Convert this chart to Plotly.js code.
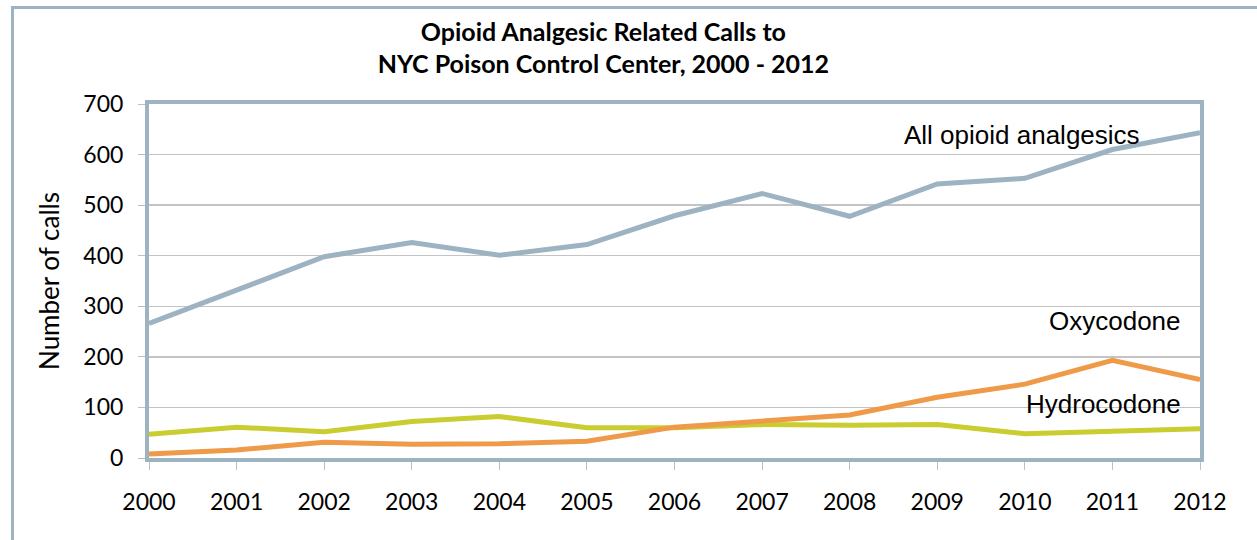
<!DOCTYPE html>
<html>
<head>
<meta charset="utf-8">
<script src="https://cdn.plot.ly/plotly-3.0.1.min.js"></script>
<style>
  html, body { margin: 0; padding: 0; background: #fff; }
  #wrap { position: relative; width: 1257px; height: 540px; }
  #chart { width: 1257px; height: 540px; }
  #frame { position: absolute; left: 11px; top: 6px; width: 1243px; height: 560px;
           border: 3px solid #9DB3C2; pointer-events: none; }
</style>
</head>
<body>
<div id="wrap">
  <div id="chart"></div>
  <div id="frame"></div>
</div>
<script>
const years = [2000, 2001, 2002, 2003, 2004, 2005, 2006, 2007, 2008, 2009, 2010, 2011, 2012];
const allOpioid = [266, 332, 398, 426, 401, 422, 479, 523, 478, 542, 553, 610, 643];
const oxycodone = [8, 16, 31, 27, 28, 33, 61, 74, 85, 120, 146, 193, 155];
const hydrocodone = [47, 61, 52, 72, 82, 60, 60, 66, 65, 66, 48, 52, 58];
const seriesNames = ["All opioid analgesics", "Oxycodone", "Hydrocodone"];
const yTicks = [0, 100, 200, 300, 400, 500, 600, 700];

const calibriLike = "Lato, 'Open Sans', sans-serif";
const arialLike = "'Liberation Sans', Arial, sans-serif";

const traces = [
  { x: years, y: hydrocodone, name: seriesNames[2], mode: "lines",
    line: { color: "#C9CD2F", width: 5 } },
  { x: years, y: oxycodone, name: seriesNames[1], mode: "lines",
    line: { color: "#EF9A48", width: 5 } },
  { x: years, y: allOpioid, name: seriesNames[0], mode: "lines",
    line: { color: "#9DB3C2", width: 5 } }
];

const layout = {
  width: 1257, height: 540,
  margin: { l: 149, r: 57, t: 104, b: 82 },
  paper_bgcolor: "#fff", plot_bgcolor: "#fff",
  showlegend: false,
  title: {
    text: "<b>Opioid Analgesic Related Calls to<br>NYC Poison Control Center, 2000 - 2012</b>",
    font: { family: calibriLike, size: 25, color: "#000" },
    x: 0.48, xanchor: "center", y: 0.925, yanchor: "middle"
  },
  xaxis: {
    range: [2000, 2012], tickmode: "array", tickvals: years, ticktext: years.map(String),
    showgrid: false, zeroline: false,
    showline: true, mirror: true, linecolor: "#9DB3C2", linewidth: 4,
    ticks: "outside", ticklen: 8, tickcolor: "#BFBFBF", tickwidth: 1,
    ticklabelstandoff: 12,
    tickfont: { family: calibriLike, size: 23, color: "#000" }
  },
  yaxis: {
    range: [0, 700], tickmode: "array", tickvals: yTicks,
    showgrid: true, gridcolor: "#C4C4C4", gridwidth: 1.5, zeroline: false,
    showline: true, mirror: true, linecolor: "#9DB3C2", linewidth: 4,
    ticks: "outside", ticklen: 7, tickcolor: "#BFBFBF", tickwidth: 1,
    ticklabelstandoff: 10,
    tickfont: { family: calibriLike, size: 23, color: "#000" },
    title: { text: "Number of calls", font: { family: calibriLike, size: 26, color: "#000" }, standoff: 17 }
  },
  annotations: [
    { x: 0.9448, y: 0.912, xref: "paper", yref: "paper", text: seriesNames[0], showarrow: false,
      xanchor: "right", yanchor: "middle",
      font: { family: arialLike, size: 26, color: "#000" } },
    { x: 0.9838, y: 0.387, xref: "paper", yref: "paper", text: seriesNames[1], showarrow: false,
      xanchor: "right", yanchor: "middle",
      font: { family: arialLike, size: 26, color: "#000" } },
    { x: 0.9838, y: 0.1525, xref: "paper", yref: "paper", text: seriesNames[2], showarrow: false,
      xanchor: "right", yanchor: "middle",
      font: { family: arialLike, size: 26, color: "#000" } }
  ]
};

Plotly.newPlot("chart", traces, layout, { displayModeBar: false, staticPlot: true });
</script>
</body>
</html>
